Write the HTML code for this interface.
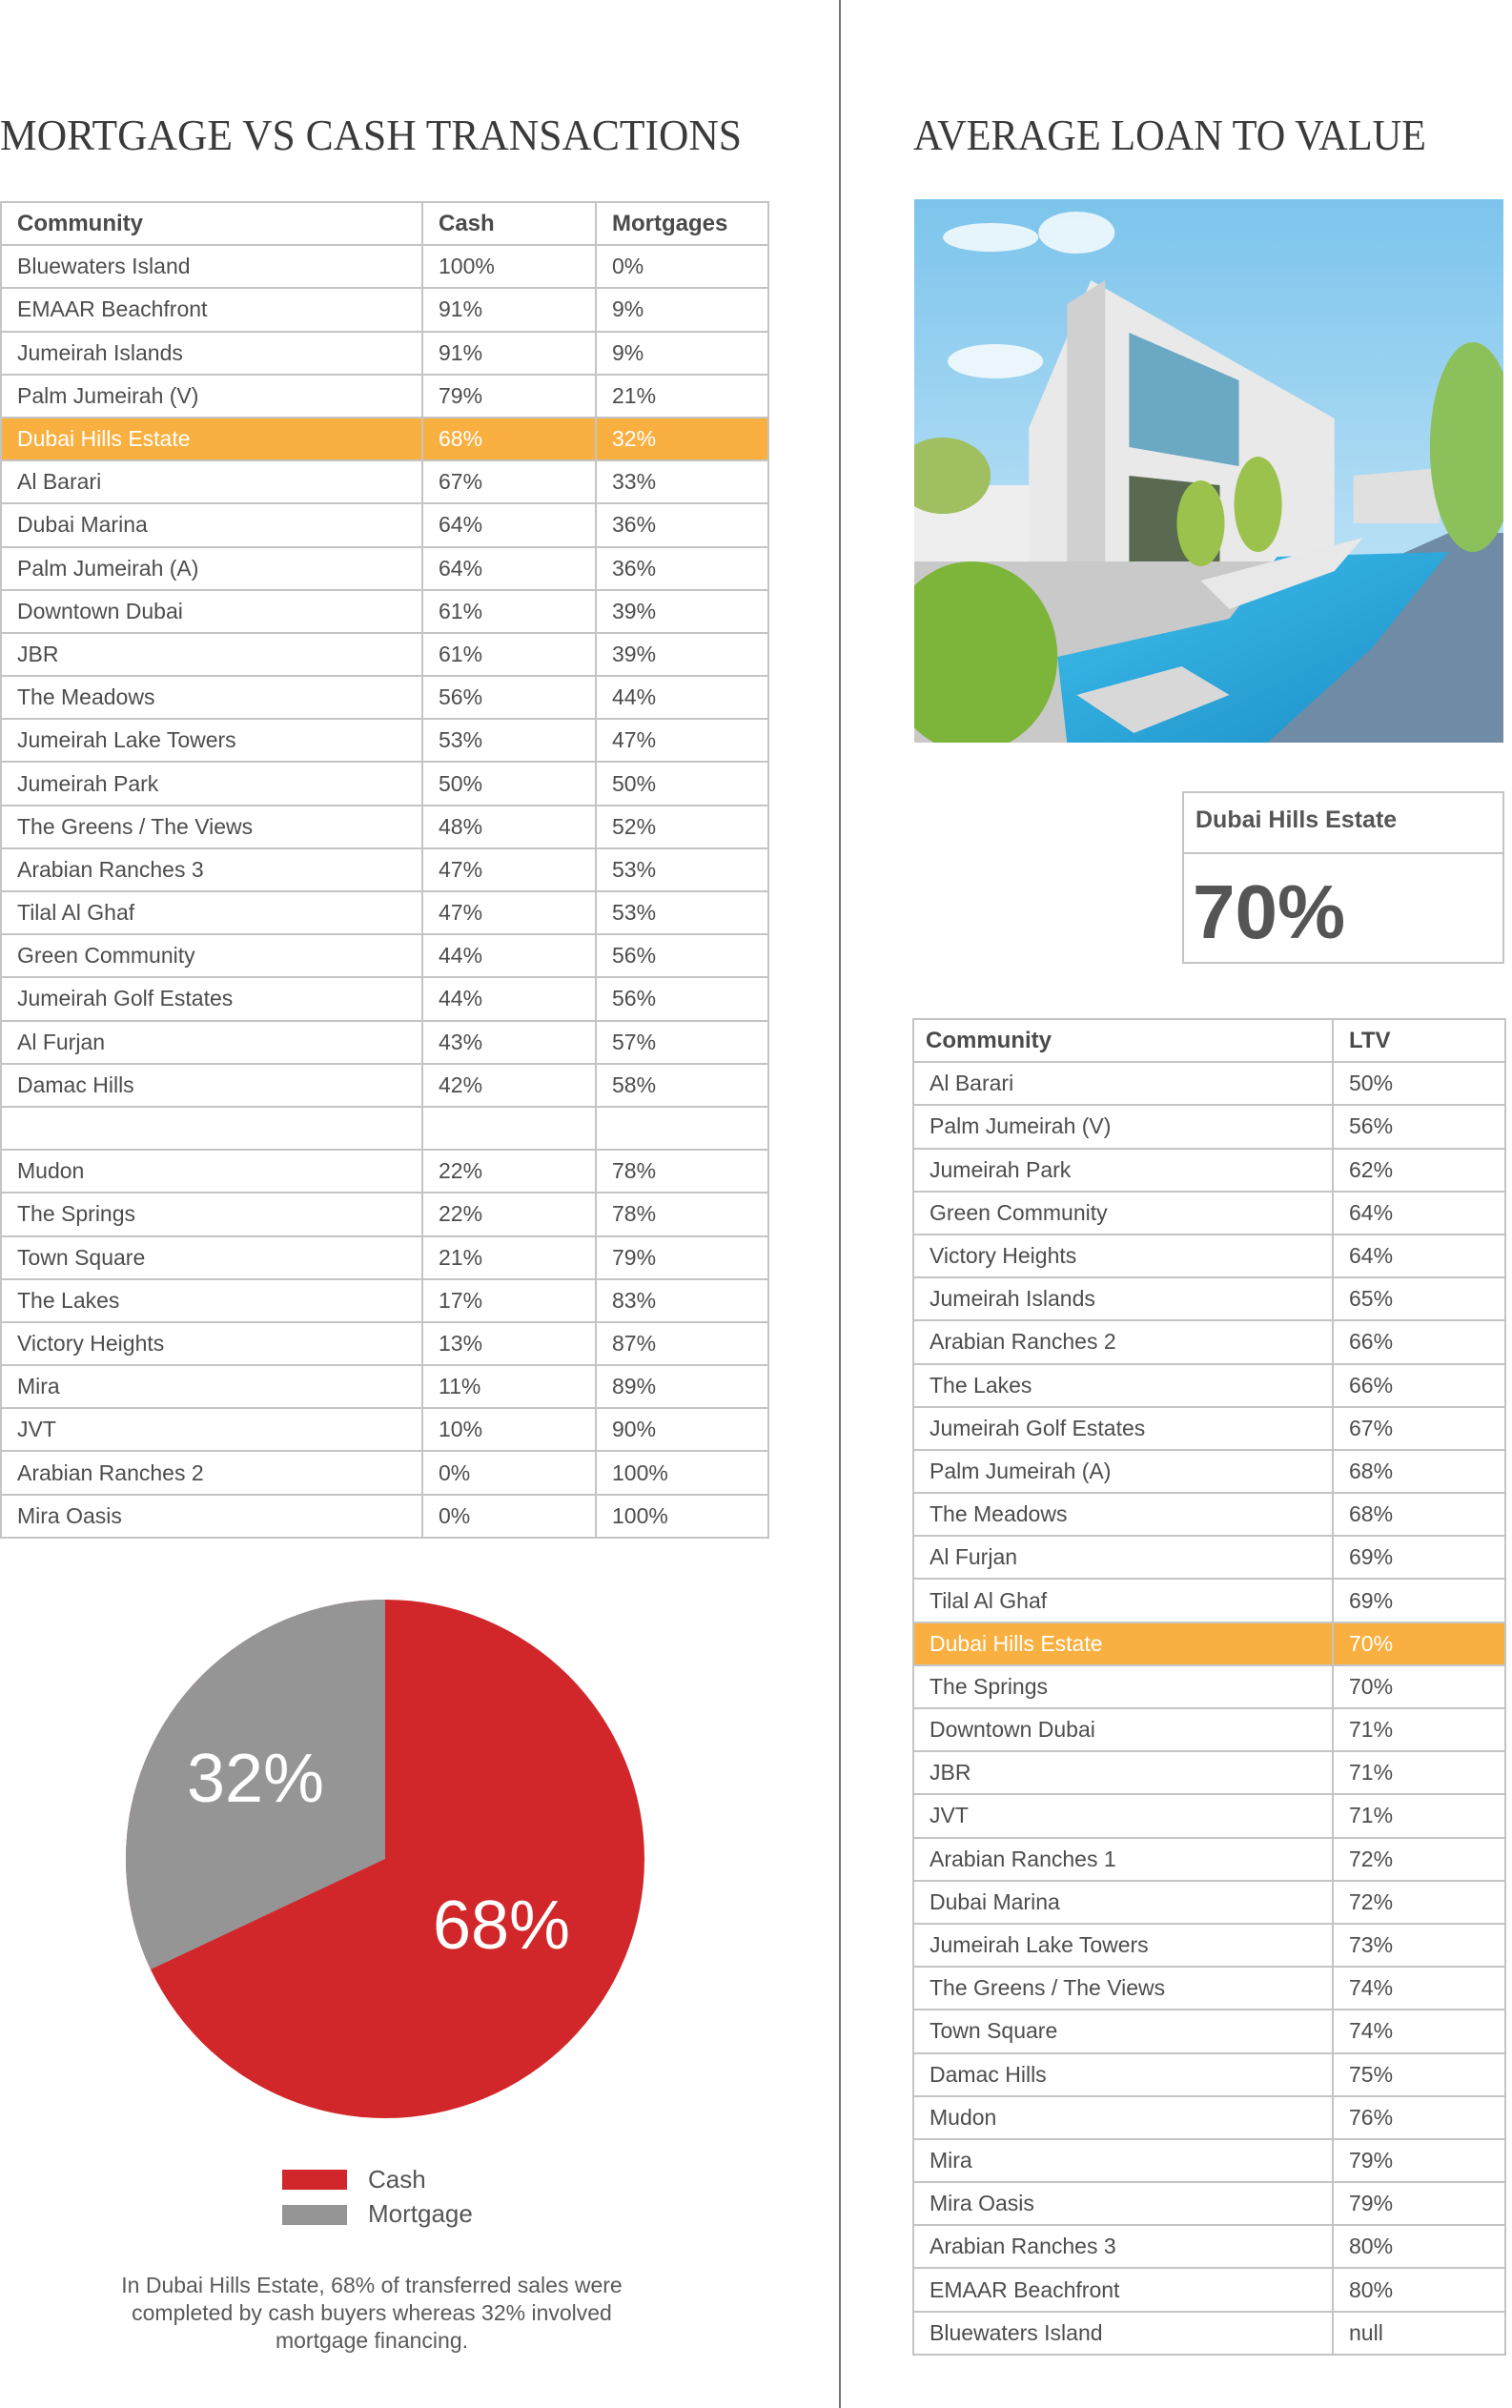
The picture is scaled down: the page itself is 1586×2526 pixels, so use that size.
<!DOCTYPE html>
<html><head><meta charset="utf-8"><style>
*{margin:0;padding:0;box-sizing:border-box}
body{width:1586px;height:2526px;background:#fff;position:relative;font-family:"Liberation Sans",sans-serif;color:#4a4a4a;overflow:hidden}
.abs{position:absolute}
table{border-collapse:collapse;position:absolute;table-layout:fixed}
td{border:2px solid #c4c4c4;font-size:23px;padding:0 0 0 16px;white-space:nowrap;color:#4d4d4d}
tr.h td{font-weight:bold;font-size:24px;color:#4a4a4a}
tr.hl td{background:#F9B040;color:#fff}
#lt td{height:45.2px}
#rt tr{height:45.2px}
#rt td{height:45.2px}
</style></head><body>
<div class="abs" style="left:880px;top:0;width:2px;height:2526px;background:#777"></div>
<svg class="abs" style="left:0;top:110px" width="860" height="60"><text x="0" y="47" font-family="Liberation Serif" font-size="46" fill="#3a3a3a" textLength="778" lengthAdjust="spacingAndGlyphs">MORTGAGE VS CASH TRANSACTIONS</text></svg>
<svg class="abs" style="left:958px;top:110px" width="620" height="60"><text x="0" y="47" font-family="Liberation Serif" font-size="46" fill="#3a3a3a" textLength="538" lengthAdjust="spacingAndGlyphs">AVERAGE LOAN TO VALUE</text></svg>

<table id="lt" style="left:0;top:211px;width:805px">
<colgroup><col style="width:442px"><col style="width:182px"><col style="width:181px"></colgroup>
<tr class="h"><td>Community</td><td>Cash</td><td>Mortgages</td></tr>
<tr><td>Bluewaters Island</td><td>100%</td><td>0%</td></tr>
<tr><td>EMAAR Beachfront</td><td>91%</td><td>9%</td></tr>
<tr><td>Jumeirah Islands</td><td>91%</td><td>9%</td></tr>
<tr><td>Palm Jumeirah (V)</td><td>79%</td><td>21%</td></tr>
<tr class="hl"><td>Dubai Hills Estate</td><td>68%</td><td>32%</td></tr>
<tr><td>Al Barari</td><td>67%</td><td>33%</td></tr>
<tr><td>Dubai Marina</td><td>64%</td><td>36%</td></tr>
<tr><td>Palm Jumeirah (A)</td><td>64%</td><td>36%</td></tr>
<tr><td>Downtown Dubai</td><td>61%</td><td>39%</td></tr>
<tr><td>JBR</td><td>61%</td><td>39%</td></tr>
<tr><td>The Meadows</td><td>56%</td><td>44%</td></tr>
<tr><td>Jumeirah Lake Towers</td><td>53%</td><td>47%</td></tr>
<tr><td>Jumeirah Park</td><td>50%</td><td>50%</td></tr>
<tr><td>The Greens / The Views</td><td>48%</td><td>52%</td></tr>
<tr><td>Arabian Ranches 3</td><td>47%</td><td>53%</td></tr>
<tr><td>Tilal Al Ghaf</td><td>47%</td><td>53%</td></tr>
<tr><td>Green Community</td><td>44%</td><td>56%</td></tr>
<tr><td>Jumeirah Golf Estates</td><td>44%</td><td>56%</td></tr>
<tr><td>Al Furjan</td><td>43%</td><td>57%</td></tr>
<tr><td>Damac Hills</td><td>42%</td><td>58%</td></tr>
<tr><td></td><td></td><td></td></tr>
<tr><td>Mudon</td><td>22%</td><td>78%</td></tr>
<tr><td>The Springs</td><td>22%</td><td>78%</td></tr>
<tr><td>Town Square</td><td>21%</td><td>79%</td></tr>
<tr><td>The Lakes</td><td>17%</td><td>83%</td></tr>
<tr><td>Victory Heights</td><td>13%</td><td>87%</td></tr>
<tr><td>Mira</td><td>11%</td><td>89%</td></tr>
<tr><td>JVT</td><td>10%</td><td>90%</td></tr>
<tr><td>Arabian Ranches 2</td><td>0%</td><td>100%</td></tr>
<tr><td>Mira Oasis</td><td>0%</td><td>100%</td></tr>
</table>

<svg class="abs" style="left:0;top:1650px" width="800" height="600">
<circle cx="404" cy="300" r="272" fill="#D2272A"/>
<path d="M404 300 L404 28 A272 272 0 0 0 158 416 Z" fill="#959595"/>
<text x="268" y="240" font-size="72" fill="#fff" text-anchor="middle" font-family="Liberation Sans">32%</text>
<text x="526" y="394" font-size="72" fill="#fff" text-anchor="middle" font-family="Liberation Sans">68%</text>
</svg>
<div class="abs" style="left:296px;top:2276px;width:68px;height:21px;background:#D2272A"></div>
<div class="abs" style="left:296px;top:2313px;width:68px;height:21px;background:#959595"></div>
<div class="abs" style="left:386px;top:2270px;font-size:26px;line-height:32px;color:#555">Cash</div>
<div class="abs" style="left:386px;top:2306px;font-size:26px;line-height:32px;color:#555">Mortgage</div>
<div class="abs" style="left:40px;top:2383px;width:700px;text-align:center;font-size:23px;line-height:29px;color:#5a5a5a">In Dubai Hills Estate, 68% of transferred sales were<br>completed by cash buyers whereas 32% involved<br>mortgage financing.</div>

<svg class="abs" style="left:959px;top:209px" width="618" height="570" viewBox="0 0 617 570" preserveAspectRatio="none">
<defs><linearGradient id="sky" x1="0" y1="0" x2="0" y2="1"><stop offset="0" stop-color="#7cc4ec"/><stop offset="1" stop-color="#d6eefa"/></linearGradient>
<linearGradient id="pool" x1="0" y1="0" x2="1" y2="1"><stop offset="0" stop-color="#3fc0ec"/><stop offset="1" stop-color="#1c8ec8"/></linearGradient></defs>
<rect width="617" height="570" fill="url(#sky)"/>
<ellipse cx="80" cy="40" rx="50" ry="15" fill="#fff" opacity=".8"/>
<ellipse cx="170" cy="35" rx="40" ry="22" fill="#fff" opacity=".8"/>
<ellipse cx="85" cy="170" rx="50" ry="18" fill="#fff" opacity=".8"/>
<polygon points="0,300 150,300 150,400 0,400" fill="#eee"/>
<polygon points="120,240 185,85 440,230 440,370 200,420 120,420" fill="#e9e9e9"/>
<polygon points="160,110 200,85 200,420 160,420" fill="#d0d0d0"/>
<polygon points="225,140 340,190 340,280 225,260" fill="#6aa8c4"/>
<polygon points="225,290 320,300 320,400 225,410" fill="#5a6a50"/>
<polygon points="460,290 550,282 550,340 460,340" fill="#e0e0e0"/>
<rect x="0" y="380" width="617" height="190" fill="#c9c9c9"/>
<polygon points="220,470 380,430 560,350 617,350 617,570 360,570" fill="#6f8ba5"/>
<polygon points="150,480 330,440 380,375 560,370 480,470 370,570 160,570" fill="url(#pool)"/>
<polygon points="300,400 470,355 440,390 330,430" fill="#e8e8e8"/>
<polygon points="170,520 280,490 330,520 230,560" fill="#d8d8d8"/>
<ellipse cx="60" cy="480" rx="90" ry="100" fill="#7cb53a"/>
<ellipse cx="30" cy="290" rx="50" ry="40" fill="#9fbf60"/>
<ellipse cx="585" cy="260" rx="45" ry="110" fill="#8cc05a"/>
<ellipse cx="300" cy="340" rx="25" ry="45" fill="#9cc24e"/>
<ellipse cx="360" cy="320" rx="25" ry="50" fill="#9cc24e"/>
</svg>

<div class="abs" style="left:1240px;top:830px;width:338px;height:181px;border:2px solid #c4c4c4"></div>
<div class="abs" style="left:1240px;top:894px;width:338px;height:2px;background:#c4c4c4"></div>
<div class="abs" style="left:1254px;top:846px;font-size:25px;font-weight:bold;color:#555">Dubai Hills Estate</div>
<div class="abs" style="left:1251px;top:907px;font-size:80px;font-weight:bold;color:#555;line-height:100px">70%</div>

<table id="rt" style="left:957px;top:1068px;width:621px">
<colgroup><col style="width:440px"><col style="width:181px"></colgroup>
<tr class="h"><td style="padding-left:12px">Community</td><td>LTV</td></tr>
<tr><td>Al Barari</td><td>50%</td></tr>
<tr><td>Palm Jumeirah (V)</td><td>56%</td></tr>
<tr><td>Jumeirah Park</td><td>62%</td></tr>
<tr><td>Green Community</td><td>64%</td></tr>
<tr><td>Victory Heights</td><td>64%</td></tr>
<tr><td>Jumeirah Islands</td><td>65%</td></tr>
<tr><td>Arabian Ranches 2</td><td>66%</td></tr>
<tr><td>The Lakes</td><td>66%</td></tr>
<tr><td>Jumeirah Golf Estates</td><td>67%</td></tr>
<tr><td>Palm Jumeirah (A)</td><td>68%</td></tr>
<tr><td>The Meadows</td><td>68%</td></tr>
<tr><td>Al Furjan</td><td>69%</td></tr>
<tr><td>Tilal Al Ghaf</td><td>69%</td></tr>
<tr class="hl"><td>Dubai Hills Estate</td><td>70%</td></tr>
<tr><td>The Springs</td><td>70%</td></tr>
<tr><td>Downtown Dubai</td><td>71%</td></tr>
<tr><td>JBR</td><td>71%</td></tr>
<tr><td>JVT</td><td>71%</td></tr>
<tr><td>Arabian Ranches 1</td><td>72%</td></tr>
<tr><td>Dubai Marina</td><td>72%</td></tr>
<tr><td>Jumeirah Lake Towers</td><td>73%</td></tr>
<tr><td>The Greens / The Views</td><td>74%</td></tr>
<tr><td>Town Square</td><td>74%</td></tr>
<tr><td>Damac Hills</td><td>75%</td></tr>
<tr><td>Mudon</td><td>76%</td></tr>
<tr><td>Mira</td><td>79%</td></tr>
<tr><td>Mira Oasis</td><td>79%</td></tr>
<tr><td>Arabian Ranches 3</td><td>80%</td></tr>
<tr><td>EMAAR Beachfront</td><td>80%</td></tr>
<tr><td>Bluewaters Island</td><td>null</td></tr>
</table>
</body></html>
